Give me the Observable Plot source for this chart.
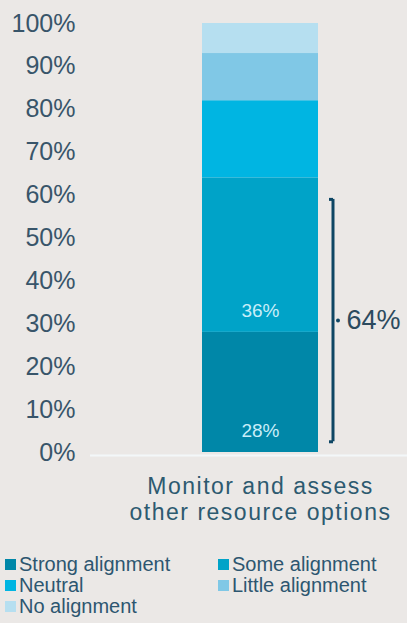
<!DOCTYPE html>
<html>
<head>
<meta charset="utf-8">
<script src="https://cdn.jsdelivr.net/npm/d3@7"></script>
<script src="https://cdn.jsdelivr.net/npm/@observablehq/plot@0.6"></script>
<style>
  html, body { margin: 0; padding: 0; background: #ebe8e6; }
  body { width: 407px; height: 623px; overflow: hidden; font-family: "Liberation Sans", Arial, sans-serif; }
  #chart svg { display: block; background: transparent; }
  #chart g[aria-label="x-axis tick label"] text { letter-spacing: 1.5px; }
  .legend { display: grid; grid-template-columns: 213px 190px; margin-top: 29px; padding-left: 5px;
            font-size: 20px; line-height: 21px; color: #2d5670; }
  .legend .item { display: flex; align-items: center; white-space: nowrap; }
  .legend .sw { width: 11px; height: 11px; margin-right: 3px; flex: none; }
</style>
</head>
<body>
<div id="chart"></div>
<script>
const category = "Monitor and assess other resource options";
const categoryLines = "Monitor and assess\nother resource options";
const levels = ["Strong alignment", "Some alignment", "Neutral", "Little alignment", "No alignment"];
const values = [28, 36, 18, 11, 7];
const colors = ["#0087a8", "#00a3c8", "#00b5e2", "#80c8e6", "#b6dff0"];
const labeledLevels = ["Strong alignment", "Some alignment"];
const yTicks = [0, 10, 20, 30, 40, 50, 60, 70, 80, 90, 100];
const bracketLabel = "64%";
const bracketSpan = [2.5, 59];

const rows = levels.map((level, i) => ({cat: category, level, value: values[i]}));
let acc = 0;
const labelRows = rows.map(r => { const start = acc; acc += r.value; return {...r, start}; })
  .filter(r => labeledLevels.includes(r.level));
const bracketMid = (bracketSpan[0] + bracketSpan[1]) / 2;

const textColor = "#38556a";
const bracketColor = "#0e4664";

const plot = Plot.plot({
  width: 407,
  height: 525,
  marginTop: 23,
  marginBottom: 73,
  marginLeft: 114,
  marginRight: 0,
  style: {background: "transparent", fontFamily: "'Liberation Sans', Arial, sans-serif", color: textColor},
  x: {domain: [category], padding: 0.4293, label: null},
  y: {domain: [0, 100], label: null},
  color: {domain: levels, range: colors},
  marks: [
    Plot.ruleY([0], {stroke: "#f3f7f9", strokeWidth: 2, dy: 3, insetLeft: -24}),
    Plot.barY(rows, {x: "cat", y: "value", fill: "level", order: levels}),
    Plot.text(labelRows, {x: "cat", y: d => d.start + 5, text: d => d.value + "%", fill: "#c8eef9", fontSize: 19}),
    Plot.ruleX([category], {x: d => d, y1: bracketSpan[0], y2: bracketSpan[1], dx: 72.5, stroke: bracketColor, strokeWidth: 3}),
    Plot.tickY(bracketSpan, {x: () => category, y: d => d, dx: 71, insetLeft: 56, insetRight: 56, stroke: bracketColor, strokeWidth: 3}),
    Plot.dot([bracketMid], {x: () => category, y: d => d, dx: 77.5, r: 2, fill: bracketColor, stroke: null}),
    Plot.text([bracketLabel], {x: () => category, y: () => bracketMid, text: d => d, dx: 86, textAnchor: "start", fontSize: 27, fill: "#2c4a5e"}),
    Plot.axisY({ticks: yTicks, tickFormat: d => d + "%", tickSize: 0, tickPadding: 39, fontSize: 25, fill: textColor}),
    Plot.axisX({tickSize: 0, tickPadding: 23, fontSize: 23, lineHeight: 1.13, fill: "#2d5a70", tickFormat: () => categoryLines})
  ]
});
document.getElementById("chart").appendChild(plot);

const legend = document.createElement("div");
legend.className = "legend";
levels.forEach((level, i) => {
  const item = document.createElement("div");
  item.className = "item";
  const sw = document.createElement("span");
  sw.className = "sw";
  sw.style.background = colors[i];
  const label = document.createElement("span");
  label.textContent = level;
  item.appendChild(sw);
  item.appendChild(label);
  legend.appendChild(item);
});
document.body.appendChild(legend);
</script>
</body>
</html>
